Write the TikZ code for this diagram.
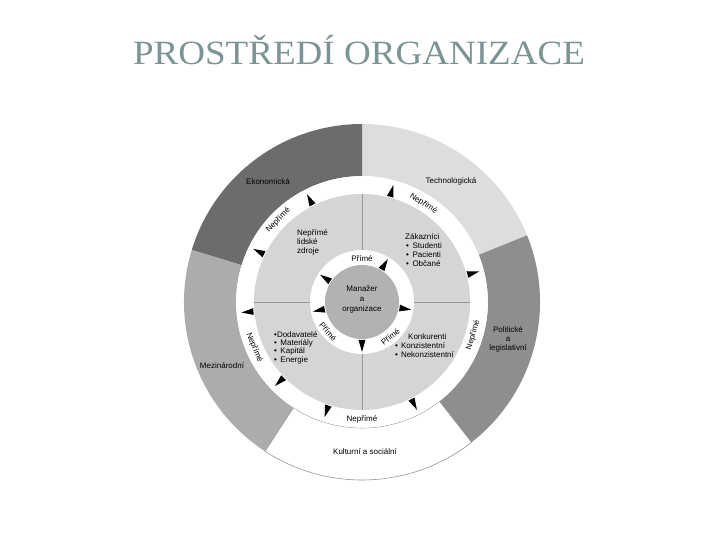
\documentclass[tikz,border=0pt]{standalone}
\usepackage{fontspec}
\setmainfont{Liberation Serif}
\newfontfamily\diagfont{Liberation Sans}
\usetikzlibrary{calc}
\definecolor{titlecol}{RGB}{125,148,148}
\definecolor{ekoncol}{RGB}{108,108,108}
\definecolor{techcol}{RGB}{221,221,221}
\definecolor{politcol}{RGB}{142,142,142}
\definecolor{mezicol}{RGB}{172,172,172}
\definecolor{innercol}{RGB}{213,213,213}
\definecolor{corecol}{RGB}{178,178,178}
\definecolor{linecol}{RGB}{150,150,150}
\newcommand\ringsector[5]{%
  \path[#1] ($(C)+(#2:#5)$) arc[start angle=#2, end angle=#3, radius=#5]
    -- ($(C)+(#3:#4)$) arc[start angle=#3, end angle=#2, radius=#4] -- cycle;}
\newcommand\outarrow[2]{%
  \fill[black] ($(C)+({#1}:{#2+7})$) -- ($(C)+({#1}:{#2-5})+({#1+90}:3.4)$)
    -- ($(C)+({#1}:{#2-5})+({#1-90}:3.4)$) -- cycle;}
\begin{document}
\begin{tikzpicture}[x=1pt,y=1pt,
  lbl/.style={font=\diagfont\fontsize{8}{9}\selectfont, inner sep=0pt, align=center, text=black},
  lbll/.style={lbl, align=left},
  titlestyle/.style={font=\fontsize{34}{40}\selectfont, text=titlecol, inner sep=0pt, anchor=base}]
\useasboundingbox (0,0) rectangle (720,540);
\fill[white] (0,0) rectangle (720,540);
\coordinate (C) at (362,238);
% outer sectors
\ringsector{fill=techcol}{22}{90}{126}{178}
\ringsector{fill=ekoncol}{90}{163}{126}{178}
\ringsector{fill=mezicol}{163}{237}{126}{178}
\ringsector{fill=white, draw=linecol, line width=0.6pt}{237}{308}{126}{178}
\ringsector{fill=politcol}{308}{382}{126}{178}
% white band
\fill[white] (C) circle[radius=125.7];
% inner light disk
\fill[innercol] (C) circle[radius=108];
\foreach \a in {0,90,180,270}
  \draw[linecol, line width=0.6pt] ($(C)+(\a:51)$) -- ($(C)+(\a:108)$);
\fill[white] (C) circle[radius=52];
\fill[corecol] (C) circle[radius=37];
% arrows inner ring
\outarrow{59}{43}
\outarrow{147}{43}
\outarrow{191}{43}
\outarrow{270}{43}
\outarrow{-9}{43}
% arrows outer ring
\outarrow{117}{114}
\outarrow{154}{114}
\outarrow{75}{114}
\outarrow{14.6}{114}
\outarrow{-63}{114}
\outarrow{185}{114}
\outarrow{224}{114}
\outarrow{252}{114}
% ring labels
\node[lbl] (p1) at ($(C)+(90:43)$) {Přímé};
\node[lbl, rotate=-49] (p2) at ($(C)+(221:45)$) {Přímé};
\node[lbl, rotate=39] (p3) at ($(C)+(-51:45)$) {Přímé};
\node[lbl, rotate=45.7] (n1) at ($(C)+(135.7:117)$) {Nepřímé};
\node[lbl, rotate=-32] (n2) at ($(C)+(58:116)$) {Nepřímé};
\node[lbl, rotate=73.5] (n3) at ($(C)+(-16.5:116)$) {Nepřímé};
\node[lbl] (n4) at ($(C)+(270:117)$) {Nepřímé};
\node[lbl, rotate=-67] (n5) at ($(C)+(203:117)$) {Nepřímé};
% sector labels
\node[lbl] (ekon) at (268,358) {Ekonomická};
\node[lbl] (tech) at (451,359) {Technologická};
\node[lbl] (polit) at (508,201) {Politické\\a\\legislativní};
\node[lbl] (mezi) at (222,174) {Mezinárodní};
\node[lbl] (kult) at (365,88) {Kulturní a sociální};
% inner labels
\node[lbl] (core) at (362,241) {Manažer\\[1pt]a\\[1pt]organizace};
\node[lbll, anchor=west] (lidske) at (297,298) {Nepřímé\\lidské\\zdroje};
\node[lbll, anchor=north west] (zak) at (405,307) {Zákazníci\\
  \hspace*{1pt}\textbullet\hspace{3.5pt}Studenti\\
  \hspace*{1pt}\textbullet\hspace{3.5pt}Pacienti\\
  \hspace*{1pt}\textbullet\hspace{3.5pt}Občané};
\node[lbll, anchor=north west, font=\diagfont\fontsize{8}{8.4}\selectfont] (dod) at (274,209) {\textbullet Dodavatelé\\
  \textbullet\hspace{3.5pt}Materiály\\
  \textbullet\hspace{3.5pt}Kapitál\\
  \textbullet\hspace{3.5pt}Energie};
\node[lbll, anchor=north west] (konk) at (395,206) {\hspace*{13pt}Konkurenti\\
  \textbullet\hspace{3pt}Konzistentní\\
  \textbullet\hspace{3pt}Nekonzistentní};
% title
\node[titlestyle] (title) at (359,475) {\scalebox{1.09}[1]{PROSTŘEDÍ ORGANIZACE}};
\end{tikzpicture}
\end{document}
